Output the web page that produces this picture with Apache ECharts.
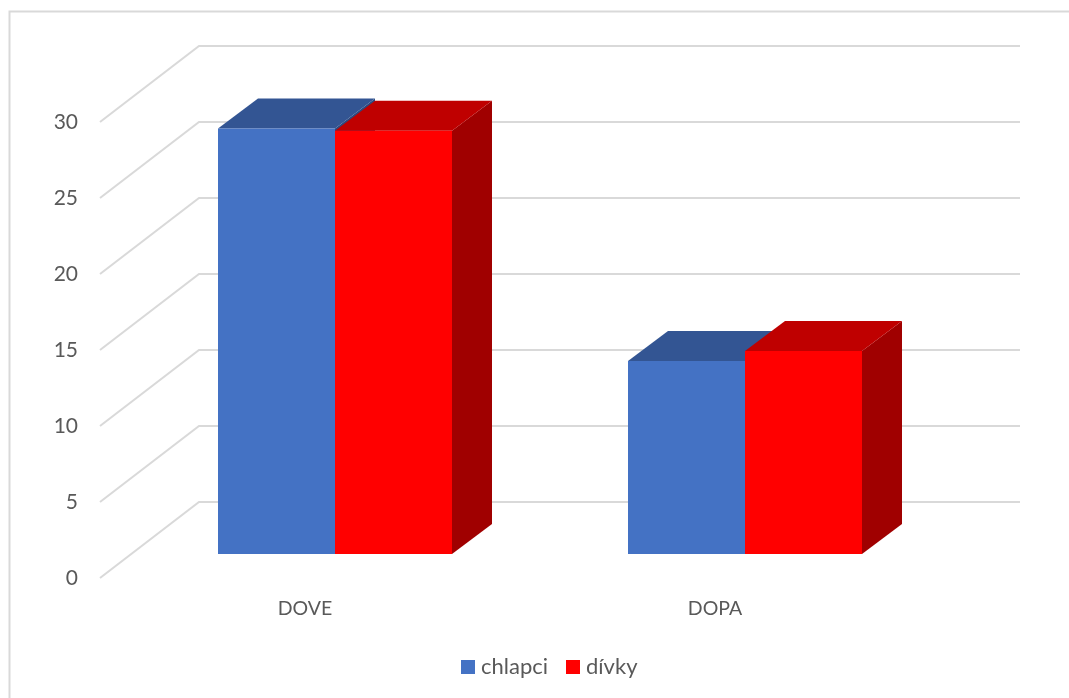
<!DOCTYPE html>
<html>
<head>
<meta charset="utf-8">
<script src="https://cdn.jsdelivr.net/npm/echarts@6/dist/echarts.min.js"></script>
<style>html,body{margin:0;padding:0;background:#fff}#c{width:1069px;height:698px}</style>
</head>
<body>
<div id="c"></div>
<script>
const categories = ['DOVE', 'DOPA'];
const chlapci = [28, 12.7];
const divky = [27.85, 13.35];
const tickValues = [0, 5, 10, 15, 20, 25, 30];

const FONT = 'Lato, Carlito, "Open Sans", sans-serif';
const TEXT = '#595959';
const GRID_LINE = '#D9D9D9';
const WALL_DX = 99, WALL_DY = -76;   // front plane -> back wall
const BASE_DX = 30, BASE_DY = -24;   // front plane -> bar front face
const DEPTH_DX = 40, DEPTH_DY = -30; // bar depth
const BAR_RATIO = 117 / 410;

function wallItem(params, api) {
  const cs = params.coordSys;
  const y = api.coord([0, api.value(1)])[1];
  const x0 = cs.x;
  return {
    type: 'polyline',
    shape: { points: [[x0, y], [x0 + WALL_DX, y + WALL_DY], [cs.x + cs.width + WALL_DX + 1, y + WALL_DY]] },
    style: { stroke: GRID_LINE, lineWidth: 2, fill: null },
    silent: true
  };
}

function barItem(slot, front, top, side) {
  return function (params, api) {
    const c = api.coord([api.value(0), api.value(1)]);
    const b = api.coord([api.value(0), 0]);
    const w = api.size([1, 0])[0] * BAR_RATIO;
    const xl = c[0] + BASE_DX + (slot === 0 ? -w : 0);
    const xr = xl + w;
    const yt = c[1] + BASE_DY;
    const yb = b[1] + BASE_DY;
    const d = (x, y) => [x + DEPTH_DX, y + DEPTH_DY];
    return {
      type: 'group',
      children: [
        { type: 'polygon', shape: { points: [[xr, yt], d(xr, yt), d(xr, yb), [xr, yb]] }, style: { fill: side } },
        { type: 'polygon', shape: { points: [[xl, yt], d(xl, yt), d(xr, yt), [xr, yt]] }, style: { fill: top } },
        { type: 'rect', shape: { x: xl, y: yt, width: w, height: yb - yt }, style: { fill: front } }
      ]
    };
  };
}

function barData(values) {
  return values.map((v, i) => [i, v]);
}

const chart = echarts.init(document.getElementById('c'), null, { renderer: 'canvas' });
chart.setOption({
  backgroundColor: '#ffffff',
  animation: false,
  textStyle: { fontFamily: FONT },
  grid: { left: 100, width: 820, top: 122, height: 456 },
  xAxis: {
    type: 'category',
    data: categories,
    axisLine: { show: false },
    axisTick: { show: false },
    axisLabel: { color: TEXT, fontSize: 19.5, fontFamily: FONT, margin: 21 }
  },
  yAxis: {
    type: 'value',
    min: 0,
    max: 30,
    interval: 5,
    axisLine: { show: false },
    axisTick: { show: false },
    splitLine: { show: false },
    axisLabel: { color: TEXT, fontSize: 21, fontFamily: FONT, margin: 22, padding: [3, 0, 0, 0] }
  },
  legend: {
    left: 461,
    top: 656,
    itemWidth: 14,
    itemHeight: 14,
    itemGap: 18,
    icon: 'rect',
    textStyle: { color: TEXT, fontSize: 22, fontFamily: FONT, padding: [0, 0, 0, 1] },
    padding: 0,
    data: ['chlapci', 'dívky']
  },
  graphic: [{
    type: 'polyline',
    silent: true,
    z: -1,
    shape: { points: [[9.5, 698], [9.5, 11.5], [1069, 11.5]] },
    style: { stroke: GRID_LINE, lineWidth: 2, fill: null }
  }],
  series: [
    {
      type: 'custom',
      name: 'walls',
      silent: true,
      z: 1,
      renderItem: wallItem,
      data: tickValues.map(v => [0, v]),
      encode: { x: 0, y: 1 },
      clip: false
    },
    {
      type: 'custom',
      name: 'chlapci',
      z: 2,
      itemStyle: { color: '#4472C4' },
      renderItem: barItem(0, '#4472C4', '#335593', '#2B4A80'),
      data: barData(chlapci),
      encode: { x: 0, y: 1 },
      clip: false
    },
    {
      type: 'custom',
      name: 'dívky',
      z: 3,
      itemStyle: { color: '#FF0000' },
      renderItem: barItem(1, '#FF0000', '#BF0000', '#A00000'),
      data: barData(divky),
      encode: { x: 0, y: 1 },
      clip: false
    }
  ]
});
</script>
</body>
</html>
